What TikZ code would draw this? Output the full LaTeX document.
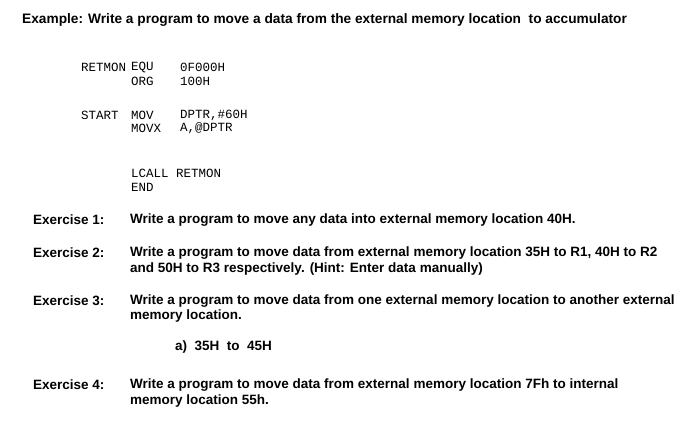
\documentclass[tikz,border=0pt]{standalone}
\usepackage{fontspec}
\setmainfont{Liberation Sans}
\setmonofont{Liberation Mono}
\begin{document}
\begin{tikzpicture}[x=1pt,y=-1pt,
  t/.style={anchor=west,inner sep=0pt,font=\fontsize{13.5}{15}\selectfont\bfseries},
  ttl/.style={anchor=west,inner sep=0pt,font=\fontsize{13.7}{15}\selectfont\bfseries},
  c/.style={anchor=west,inner sep=0pt,font=\fontsize{12.5}{14}\selectfont\ttfamily}]
\useasboundingbox[fill=white] (0,0) rectangle (700,447);
\node[ttl] (title) at (22,20) {Example: Write a program to move a data from the external memory location\ \ to accumulator};
\node[c] (c1a) at (81,67) {RETMON};
\node[c] (c1b) at (131,67) {EQU};
\node[c] (c1c) at (180,67) {0F000H};
\node[c] (c2b) at (131,81) {ORG};
\node[c] (c2c) at (180,81) {100H};
\node[c] (c3a) at (81,115) {START};
\node[c] (c3b) at (131,115) {MOV};
\node[c] (c3c) at (180,115) {DPTR,\#60H};
\node[c] (c4b) at (131,128) {MOVX};
\node[c] (c4c) at (180,128) {A,@DPTR};
\node[c] (c5b) at (131,173) {LCALL RETMON};
\node[c] (c6b) at (131,187) {END};
\node[t] (e1) at (33,220) {Exercise 1:};
\node[t] (e1t) at (130,220) {Write a program to move any data into external memory location 40H.};
\node[t] (e2) at (33,253) {Exercise 2:};
\node[t] (e2t) at (130,253) {Write a program to move data from external memory location 35H to R1, 40H to R2};
\node[t] (e2u) at (130,269) {and 50H to R3 respectively. (Hint: Enter data manually)};
\node[t] (e3) at (33,301) {Exercise 3:};
\node[t] (e3t) at (130,301) {Write a program to move data from one external memory location to another external};
\node[t] (e3u) at (130,316) {memory location.};
\node[t] (e3a) at (175,347) {a)\ \ 35H\ \ to\ \ 45H};
\node[t] (e4) at (33,385) {Exercise 4:};
\node[t] (e4t) at (130,385) {Write a program to move data from external memory location 7Fh to internal};
\node[t] (e4u) at (130,401) {memory location 55h.};
\end{tikzpicture}
\end{document}
